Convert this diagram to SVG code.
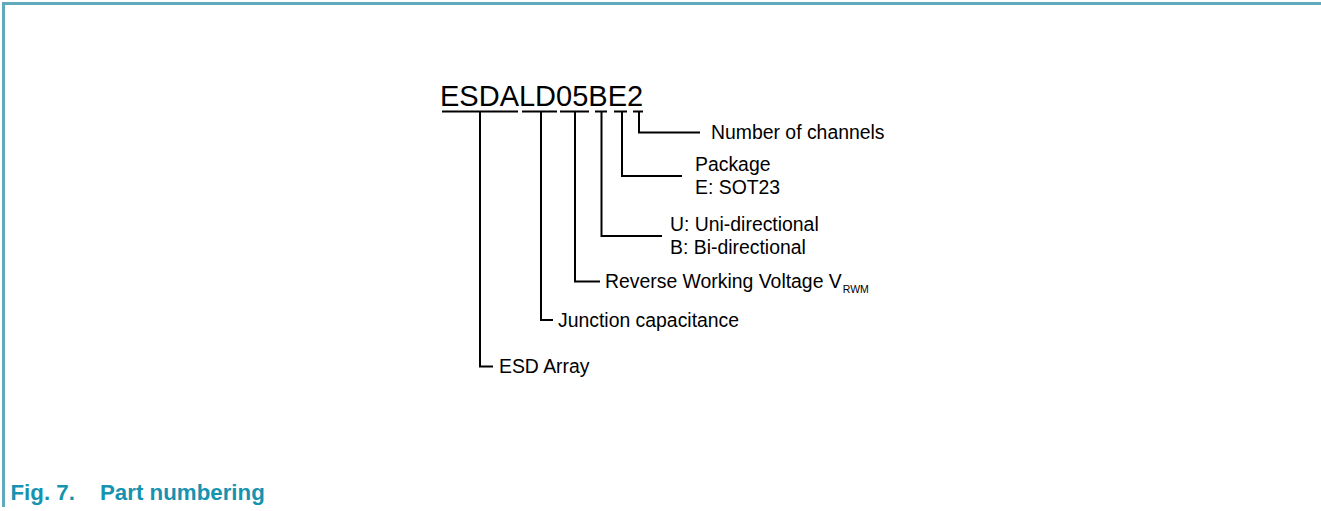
<svg xmlns="http://www.w3.org/2000/svg" width="1321" height="511" viewBox="0 0 1321 511">
<style>
.ln{fill:none;stroke:#000;stroke-width:2;stroke-linecap:butt}
.lbl{font-family:"Liberation Sans",Arial,sans-serif;font-size:19.4px;fill:#000}
.pn{font-family:"Liberation Sans",Arial,sans-serif;font-size:29px;fill:#000}
.cap{font-family:"Liberation Sans",Arial,sans-serif;font-size:22.3px;font-weight:bold;fill:#1593b0}
</style>
<rect width="1321" height="511" fill="#fff"/>
<path d="M3.5,507 V3.5 H1321" fill="none" stroke="#5faabd" stroke-width="3"/>
<g id="partnumber">
<text class="pn" x="440" y="106">ESDALD05BE2</text>
</g>
<g id="connectors">
<path class="ln" d="M442,111.5 H518 M522,111.5 H557 M560,111.5 H589 M595,111.5 H607 M614,111.5 H627 M633,111.5 H643"/>
<path class="ln" d="M639,112 V132.5 H700"/>
<path class="ln" d="M622,112 V176 H682"/>
<path class="ln" d="M601.5,112 V236 H662"/>
<path class="ln" d="M575,112 V281.5 H600"/>
<path class="ln" d="M541,112 V320 H553"/>
<path class="ln" d="M480,112 V366.5 H493"/>
</g>
<g id="channels"><text class="lbl" x="711" y="138.5">Number of channels</text></g>
<g id="package"><text class="lbl" x="695" y="170.5">Package</text><text class="lbl" x="695" y="194">E: SOT23</text></g>
<g id="direction"><text class="lbl" x="670" y="230.5">U: Uni-directional</text><text class="lbl" x="670" y="254">B: Bi-directional</text></g>
<g id="voltage"><text class="lbl" x="605" y="287.5">Reverse Working Voltage V<tspan font-size="10.5" dx="1" dy="5.5">RWM</tspan></text></g>
<g id="capacitance"><text class="lbl" x="558" y="327">Junction capacitance</text></g>
<g id="array"><text class="lbl" x="499" y="373">ESD Array</text></g>
<g id="caption"><text class="cap" x="10.5" y="500">Fig. 7.</text><text class="cap" x="100" y="500">Part numbering</text></g>
</svg>
